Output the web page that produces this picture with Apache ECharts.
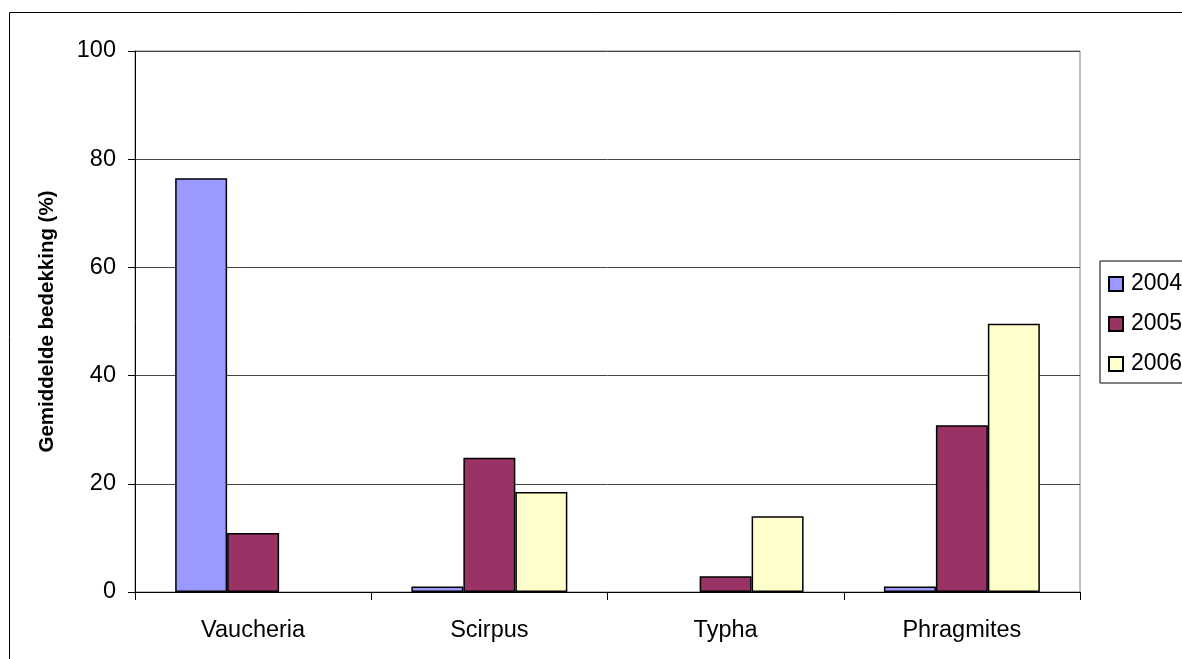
<!DOCTYPE html>
<html>
<head>
<meta charset="utf-8">
<style>
  html, body { margin: 0; padding: 0; background: #fff; }
  #chart { width: 1182px; height: 659px; }
</style>
<script src="https://cdn.jsdelivr.net/npm/echarts@6/dist/echarts.min.js"></script>
</head>
<body>
<div id="chart"></div>
<script>
  // values
  const species = ['Vaucheria', 'Scirpus', 'Typha', 'Phragmites'];
  const years = ['2004', '2005', '2006'];
  const cover2004 = [76.5, 1, 0, 1];
  const cover2005 = [10.9, 24.8, 2.9, 30.8];
  const cover2006 = [0, 18.5, 14.0, 49.6];
  const colors = ['#9999FF', '#993366', '#FFFFCC'];

  const chart = echarts.init(document.getElementById('chart'));
  const font = 'Liberation Sans, Arial, sans-serif';

  // zero values draw no bar in the original
  const bar = (name, data, color) => ({
    name, type: 'bar', data: data.map(v => v === 0 ? '-' : v),
    barGap: '0%', barCategoryGap: '34%',
    itemStyle: { color, borderColor: '#000', borderWidth: 1.5 },
    emphasis: { disabled: true }
  });

  chart.setOption({
    backgroundColor: '#fff',
    animation: false,
    textStyle: { fontFamily: font },
    graphic: [{
      type: 'rect', silent: true, z: -1,
      shape: { x: 9.5, y: 12.5, width: 1400, height: 800 },
      style: { fill: 'none', stroke: '#000', lineWidth: 1 }
    }],
    grid: { left: 135, right: 102, top: 51, bottom: 67, show: true, borderColor: '#808080', borderWidth: 1 },
    legend: {
      orient: 'vertical', left: 1100, top: 261,
      data: years, itemWidth: 14, itemHeight: 14, itemGap: 16,
      borderColor: '#000', borderWidth: 1, padding: [11, 30, 7, 8],
      textStyle: { fontSize: 23, lineHeight: 24, color: '#000', fontFamily: font, padding: [0, 0, 0, 3] },
      icon: 'rect'
    },
    xAxis: {
      type: 'category', data: species,
      axisLine: { lineStyle: { color: '#000', width: 1 } },
      axisTick: { show: true, length: 8, alignWithLabel: false, lineStyle: { color: '#000' } },
      axisLabel: { fontSize: 23.5, color: '#000', margin: 27 }
    },
    yAxis: {
      type: 'value', min: 0, max: 100, interval: 20,
      name: 'Gemiddelde bedekking (%)', nameLocation: 'middle', nameGap: 77,
      nameTextStyle: { fontSize: 20.5, fontWeight: 'bold', color: '#000' },
      axisLine: { show: true, lineStyle: { color: '#000', width: 1 } },
      axisTick: { show: true, length: 7, inside: false, lineStyle: { color: '#000' } },
      axisLabel: { fontSize: 23.5, color: '#000', margin: 19 },
      splitLine: { show: true, lineStyle: { color: '#444', width: 1 } }
    },
    series: [
      bar(years[0], cover2004, colors[0]),
      bar(years[1], cover2005, colors[1]),
      bar(years[2], cover2006, colors[2])
    ]
  });
</script>
</body>
</html>
